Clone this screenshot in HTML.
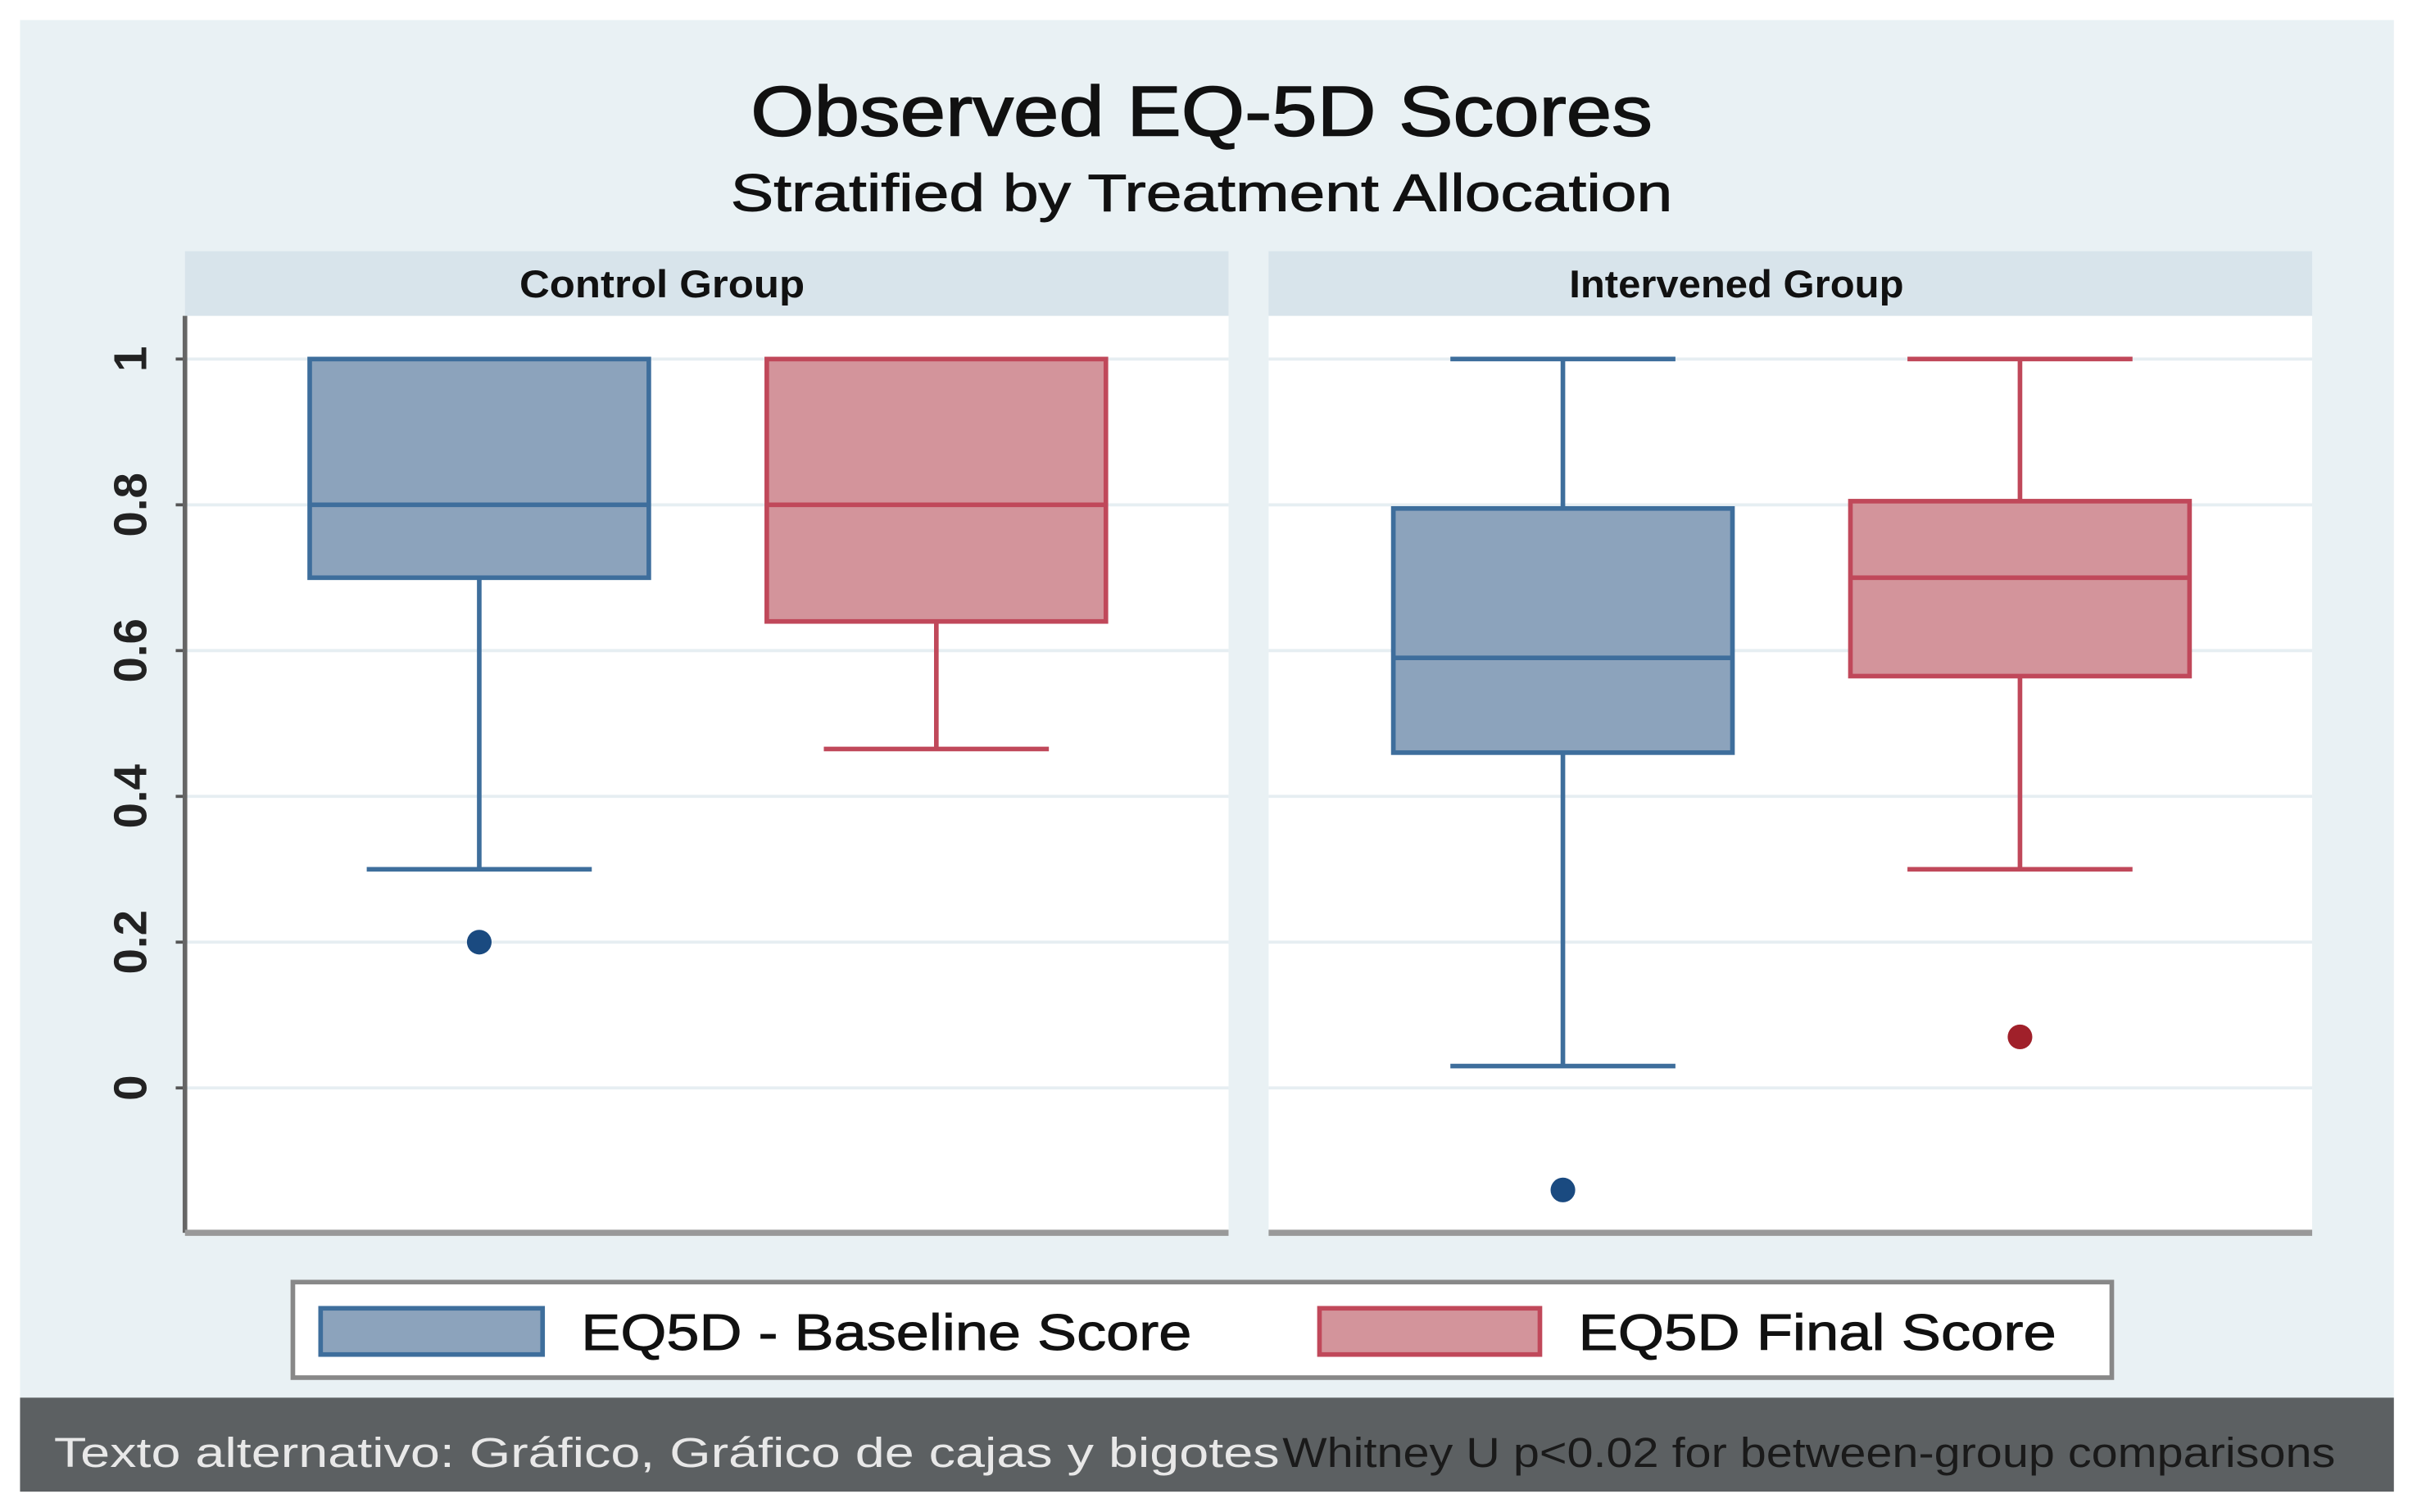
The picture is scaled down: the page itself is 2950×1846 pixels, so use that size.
<!DOCTYPE html>
<html><head><meta charset="utf-8"><style>
html,body{margin:0;padding:0;background:#fff;}
svg{display:block;font-family:"Liberation Sans",sans-serif;}
</style></head><body>
<svg id="chart" width="2950" height="1846" viewBox="0 0 1568 981.2" preserveAspectRatio="none" xmlns="http://www.w3.org/2000/svg">
<rect x="13" y="13" width="1540" height="895" fill="#e9f1f4"/>
<text x="487" y="88" font-size="46" fill="#111" stroke="#111" stroke-width="0.8" textLength="585" lengthAdjust="spacingAndGlyphs">Observed EQ-5D Scores</text>
<text x="474" y="137" font-size="34" fill="#111" stroke="#111" stroke-width="0.5" textLength="611" lengthAdjust="spacingAndGlyphs">Stratified by Treatment Allocation</text>
<g id="panels"></g>
<rect x="190" y="832" width="1180" height="62" fill="#fff" stroke="#888" stroke-width="3"/>
<rect x="208" y="849" width="144" height="30" fill="#8ca3bc" stroke="#3e6e9c" stroke-width="3"/>
<text x="377" y="876" font-size="33" fill="#111" stroke="#111" stroke-width="0.5" textLength="396" lengthAdjust="spacingAndGlyphs">EQ5D - Baseline Score</text>
<rect x="856" y="849" width="143" height="30" fill="#d3949b" stroke="#c0485a" stroke-width="3"/>
<text x="1024" y="876" font-size="33" fill="#111" stroke="#111" stroke-width="0.5" textLength="310" lengthAdjust="spacingAndGlyphs">EQ5D Final Score</text>
<rect x="13" y="907" width="1540" height="61" fill="#5c6062"/>
<text x="35" y="952" font-size="27" fill="#e8e8e8" textLength="795" lengthAdjust="spacingAndGlyphs">Texto alternativo: Gráfico, Gráfico de cajas y bigotes</text>
<text x="832" y="952" font-size="27" fill="#1a1a1a" textLength="683" lengthAdjust="spacingAndGlyphs">Whitney U p&lt;0.02 for between-group comparisons</text>
</svg>
<script>
const panelNames = ["Control  Group", "Intervened Group"];
const seriesNames = ["baseline", "final"];
const yTicks = [0, 0.2, 0.4, 0.6, 0.8, 1];
const yTickLabels = ["0", "0.2", "0.4", "0.6", "0.8", "1"];
// per box: [panel][series]
const mins = [[0.30, 0.465], [0.03, 0.30]];
const q1s = [[0.70, 0.64], [0.46, 0.565]];
const medians = [[0.80, 0.80], [0.59, 0.70]];
const q3s = [[1.00, 1.00], [0.795, 0.805]];
const maxs = [[1.00, 1.00], [1.00, 1.00]];
const outliers = [[[0.20], []], [[-0.14], [0.07]]];

const NS = "http://www.w3.org/2000/svg";
const g = document.getElementById("panels");
function mk(tag, attrs, parent) {
  const e = document.createElementNS(NS, tag);
  for (const k in attrs) e.setAttribute(k, attrs[k]);
  (parent || g).appendChild(e);
  return e;
}
const yScale = v => 706 - v * 473;
const panelX = [120, 823], panelW = 677;
const titleX = [337, 1018], titleW = [185, 217];
const fills = ["#8ca3bc", "#d3949b"], strokes = ["#3e6e9c", "#c0485a"], dots = ["#1a4a80", "#a0202a"];
const xScale = (p, s) => panelX[p] + panelW * (s === 0 ? 0.282 : 0.72);
panelNames.forEach((name, p) => {
  const px = panelX[p];
  let e = mk("rect", {x: px, y: 163, width: panelW, height: 42, fill: "#d8e4eb"});
  
  
  e = mk("text", {x: titleX[p], y: 193, "font-size": "25", "font-weight": "bold", fill: "#111", textLength: titleW[p], lengthAdjust: "spacingAndGlyphs"});
  e.textContent = name;
  
  
  e = mk("rect", {x: px, y: 205, width: panelW, height: 595, fill: "#fff"});
  
  
  yTicks.forEach((t, i) => {
    const gl = mk("line", {x1: px, x2: px + panelW, y1: yScale(t), y2: yScale(t), stroke: "#e6eef2", "stroke-width": 2});
    
    
    if (p === 0) {
      const tk = mk("line", {x1: px - 6, x2: px, y1: yScale(t), y2: yScale(t), stroke: "#555", "stroke-width": 2});
      
      
      const tl = mk("text", {x: 0, y: 0, transform: `translate(95,${yScale(t)}) rotate(-90)`, "text-anchor": "middle", "font-size": "30", "font-weight": "bold", fill: "#222"});
      tl.textContent = yTickLabels[i];
      
      
    }
  });
  if (p === 0) {
    e = mk("line", {x1: px, x2: px, y1: 205, y2: 800, stroke: "#666", "stroke-width": 3});
    
    
  }
  e = mk("line", {x1: px, x2: px + panelW, y1: 800, y2: 800, stroke: "#999", "stroke-width": 4});
  
  
  seriesNames.forEach((sn, s) => {
    const cx = xScale(p, s), hw = 110, cw = 73;
    const grp = mk("g", {});
    
    
    const st = {stroke: strokes[s], "stroke-width": 3, fill: "none"};
    mk("line", Object.assign({x1: cx, x2: cx, y1: yScale(q1s[p][s]), y2: yScale(mins[p][s])}, st), grp);
    mk("line", Object.assign({x1: cx - cw, x2: cx + cw, y1: yScale(mins[p][s]), y2: yScale(mins[p][s])}, st), grp);
    if (maxs[p][s] > q3s[p][s] + 0.001) {
      mk("line", Object.assign({x1: cx, x2: cx, y1: yScale(q3s[p][s]), y2: yScale(maxs[p][s])}, st), grp);
      mk("line", Object.assign({x1: cx - cw, x2: cx + cw, y1: yScale(maxs[p][s]), y2: yScale(maxs[p][s])}, st), grp);
    }
    mk("rect", {x: cx - hw, y: yScale(q3s[p][s]), width: 2 * hw, height: yScale(q1s[p][s]) - yScale(q3s[p][s]), fill: fills[s], stroke: strokes[s], "stroke-width": 3}, grp);
    mk("line", Object.assign({x1: cx - hw, x2: cx + hw, y1: yScale(medians[p][s]), y2: yScale(medians[p][s])}, st), grp);
    outliers[p][s].forEach(v => {
      const c = mk("circle", {cx: cx, cy: yScale(v), r: 8, fill: dots[s]});
      
      
    });
  });
});
</script>
</body></html>
